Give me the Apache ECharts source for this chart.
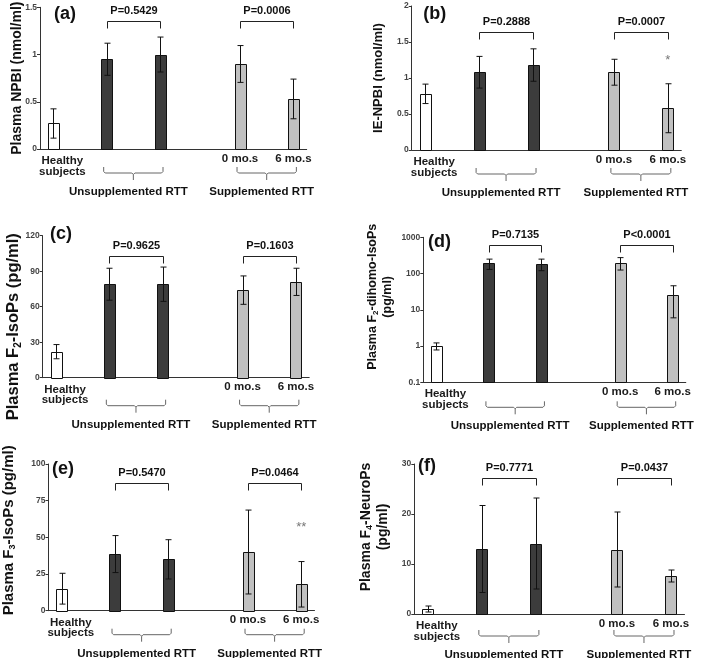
<!DOCTYPE html>
<html><head><meta charset="utf-8">
<script src="https://cdn.jsdelivr.net/npm/echarts@6/dist/echarts.min.js"></script>
<style>html,body{margin:0;padding:0;background:#fff}#c{width:709px;height:658px}</style>
</head><body><div id="c"></div>
<script>
// ---------------- data ----------------
const panelLetters = ['(a)', '(b)', '(c)', '(d)', '(e)', '(f)'];
const barLabels = ['Healthy\nsubjects', '', '', '0 mo.s', '6 mo.s'];
const groupLabels = ['Unsupplemented RTT', 'Supplemented RTT'];
const yTitles = [
  'Plasma NPBI (nmol/ml)',
  'IE-NPBI (nmol/ml)',
  'Plasma F{s|2}-IsoPs (pg/ml)',
  'Plasma F{s|2}-dihomo-IsoPs\n(pg/ml)',
  'Plasma F{s|3}-IsoPs (pg/ml)',
  'Plasma F{s|4}-NeuroPs\n(pg/ml)'
];
const npbiMean = [0.27, 0.95, 1.00, 0.90, 0.53];
const npbiSd = [0.155, 0.17, 0.185, 0.195, 0.21];
const ieNpbiMean = [0.78, 1.08, 1.18, 1.08, 0.58];
const ieNpbiSd = [0.135, 0.22, 0.225, 0.18, 0.34];
const f2IsoPsMean = [22, 79, 79, 74, 81];
const f2IsoPsSd = [6, 13.5, 14.5, 12, 11.5];
const f2DihomoMean = [1.0, 190, 185, 200, 26];
const f2DihomoSd = [0.22, 60, 65, 75, 20];
const f3IsoPsMean = [15, 38.6, 35, 40, 18];
const f3IsoPsSd = [10.5, 12.6, 13.4, 28.6, 15.5];
const f4NeuroPsMean = [1.0, 13.0, 14.1, 12.9, 7.6];
const f4NeuroPsSd = [0.6, 8.7, 9.1, 7.5, 1.2];
const pUnsupp = ['P=0.5429', 'P=0.2888', 'P=0.9625', 'P=0.7135', 'P=0.5470', 'P=0.7771'];
const pSupp = ['P=0.0006', 'P=0.0007', 'P=0.1603', 'P<0.0001', 'P=0.0464', 'P=0.0437'];
const starMarks = ['', '*', '', '', '**', ''];
const starLevel = [null, 1.24, null, null, 57, null];
const yMin = [0, 0, 0, 0.1, 0, 0];
const yMax = [1.5, 2, 120, 1000, 100, 30];
const yStep = [0.5, 0.5, 30, null, 25, 10];

const means = [npbiMean, ieNpbiMean, f2IsoPsMean, f2DihomoMean, f3IsoPsMean, f4NeuroPsMean];
const sds = [npbiSd, ieNpbiSd, f2IsoPsSd, f2DihomoSd, f3IsoPsSd, f4NeuroPsSd];

// ---------------- layout ----------------
const FONT = '"Liberation Sans", Arial, sans-serif';
const NARROW = '"Liberation Sans Narrow", "Arial Narrow", "Liberation Sans", Arial, sans-serif';
const NSLOT = 10;
const slotOf = [0, 2, 4, 7, 9];
const barColors = ['#ffffff', '#3c3c3c', '#3c3c3c', '#c0c0c0', '#c0c0c0'];
const BAR_W = 11;
const L = [
  {left: 40, top: 7.3, width: 266.7, height: 141.7, gap: 14, fs: 14, pad: [0, 0, 0, 0], pOff: 13.4, letter: [14, 7.7]},
  {left: 411.7, top: 6, width: 269.6, height: 144, gap: 25, fs: 13, pad: [0, 0, 0, 0], pOff: 25.7, letter: [11.5, 9]},
  {left: 42.7, top: 235.7, width: 266.5, height: 142, gap: 19, fs: 16.5, pad: [0, 40, 0, 0], pOff: 20.3, letter: [7.3, -0.7]},
  {left: 423.3, top: 237.3, width: 262.5, height: 145, gap: 28, fs: 12.5, pad: [0, 0, 0, 26], pOff: 7.7, letter: [4.7, 5.7]},
  {left: 48.5, top: 464, width: 266, height: 146.7, gap: 31, fs: 15, pad: [0, 0, 0, 14], pOff: 19.3, letter: [3.5, 6]},
  {left: 414.3, top: 464, width: 270.2, height: 150, gap: 23, fs: 14, pad: [0, 0, 0, 24], pOff: 14.3, letter: [3.7, 3]}
];
const bottomExtra = [0, 0, 4, 1, 0, -2];

const slotNames = new Array(NSLOT).fill('');
slotOf.forEach((s, i) => { slotNames[s] = barLabels[i]; });

const grids = [], xAxes = [], yAxes = [], series = [];
L.forEach((l, p) => {
  grids.push({left: l.left, top: l.top, width: l.width, height: l.height, outerBoundsMode: 'none', containLabel: false});
  xAxes.push({
    type: 'category', gridIndex: p, data: slotNames, boundaryGap: true,
    axisLine: {lineStyle: {color: '#333', width: 1}},
    axisTick: {show: false},
    axisLabel: {
      interval: 0, margin: 3, fontFamily: FONT, fontWeight: 'bold', fontSize: 11.5, color: '#1a1a1a', lineHeight: 13,
      formatter: v => v.indexOf('\n') >= 0 ? '{h1|' + v.split('\n')[0] + '}\n{h|' + v.split('\n')[1] + '}' : v,
      rich: {
        h1: {fontFamily: FONT, fontWeight: 'bold', fontSize: 11.5, color: '#1a1a1a', lineHeight: 13, padding: [5, 0, 0, 18]},
        h: {fontFamily: FONT, fontWeight: 'bold', fontSize: 11.5, color: '#1a1a1a', lineHeight: 13, padding: [0, 0, 0, 18]}
      }
    },
    splitLine: {show: false}
  });
  const ya = {
    type: p === 3 ? 'log' : 'value', gridIndex: p, min: yMin[p], max: yMax[p],
    name: yTitles[p], nameLocation: 'middle', nameRotate: 90, nameGap: l.gap, nameMoveOverlap: false,
    nameTextStyle: {
      fontFamily: FONT, fontWeight: 'bold', fontSize: l.fs, color: '#111', lineHeight: l.fs + 3, padding: l.pad,
      rich: {s: {fontFamily: FONT, fontWeight: 'bold', fontSize: Math.round(l.fs * 0.62), color: '#111', verticalAlign: 'bottom', lineHeight: l.fs + 3}}
    },
    axisLine: {show: true, lineStyle: {color: '#333', width: 1}},
    axisTick: {show: true, inside: false, length: 3, lineStyle: {color: '#333'}},
    axisLabel: {fontFamily: NARROW, fontWeight: 'bold', fontSize: 8.5, color: '#444', margin: 3, formatter: v => String(v)},
    splitLine: {show: false}
  };
  if (yStep[p]) ya.interval = yStep[p];
  if (p === 3) ya.logBase = 10;
  yAxes.push(ya);

  const barData = slotOf.map((s, i) => [s, means[p][i]]);
  series.push({
    type: 'custom', xAxisIndex: p, yAxisIndex: p, data: barData, silent: true, z: 3,
    encode: {x: 0, y: 1},
    renderItem: (params, api) => {
      const x = api.value(0);
      const t = api.coord([x, api.value(1)]);
      const b = api.coord([x, yMin[p]]);
      return {type: 'rect', shape: {x: Math.round(t[0] - BAR_W / 2) + 0.5, y: Math.round(t[1]) + 0.5, width: BAR_W, height: Math.round(b[1]) - Math.round(t[1])},
        style: {fill: barColors[params.dataIndex], stroke: '#111', lineWidth: 1}};
    }
  });
  const errData = slotOf.map((s, i) => [s, means[p][i] - sds[p][i], means[p][i] + sds[p][i]]);
  series.push({
    type: 'custom', xAxisIndex: p, yAxisIndex: p, data: errData, silent: true, z: 5,
    encode: {x: 0, y: [1, 2]},
    renderItem: (params, api) => {
      const x = api.value(0);
      const a = api.coord([x, api.value(1)]);
      const b = api.coord([x, api.value(2)]);
      const c = 3;
      const xm = Math.round(a[0]) + 0.5;
      const st = {stroke: '#111', lineWidth: 1};
      return {type: 'group', children: [
        {type: 'line', shape: {x1: xm, y1: a[1], x2: xm, y2: b[1]}, style: st},
        {type: 'line', shape: {x1: xm - c, y1: a[1], x2: xm + c, y2: a[1]}, style: st},
        {type: 'line', shape: {x1: xm - c, y1: b[1], x2: xm + c, y2: b[1]}, style: st}
      ]};
    }
  });
});

const chart = echarts.init(document.getElementById('c'), null, {renderer: 'canvas'});
chart.setOption({animation: false, backgroundColor: '#fff', grid: grids, xAxis: xAxes, yAxis: yAxes, series: series});

// ---------------- annotations ----------------
const g = [];
L.forEach((l, p) => {
  const px = s => chart.convertToPixel({xAxisIndex: p, yAxisIndex: p}, [s, yMax[p]])[0];
  const xs = slotOf.map(px);
  g.push({type: 'text', left: l.left + l.letter[0], top: l.top + l.letter[1] - 10,
    style: {text: panelLetters[p], font: 'bold 18px ' + FONT, fill: '#111'}});
  const yb = Math.round(l.top + l.pOff) + 0.5;
  [[xs[1], xs[2], pUnsupp[p]], [xs[3], xs[4], pSupp[p]]].forEach(([x1, x2, t]) => {
    x1 = Math.round(x1) + 0.5; x2 = Math.round(x2) + 0.5;
    g.push({type: 'polyline', shape: {points: [[x1, yb + 7], [x1, yb], [x2, yb], [x2, yb + 7]]},
      style: {stroke: '#222', lineWidth: 1, fill: null}});
    g.push({type: 'text', x: (x1 + x2) / 2, y: yb - 10.5,
      style: {text: t, font: 'bold 11px ' + FONT, fill: '#111', align: 'center', verticalAlign: 'middle'}});
  });
  const yB = l.top + l.height + bottomExtra[p];
  [[xs[1] - 3, xs[2] + 3, groupLabels[0]], [xs[3] - 3, xs[4] + 3, groupLabels[1]]].forEach(([x1, x2, t]) => {
    const xc = (x1 + x2) / 2, y0 = yB + 18, y1 = yB + 24, y2 = yB + 31;
    g.push({type: 'polyline', shape: {points: [[x1, y0], [x1, y1 - 1.5], [x1 + 1.5, y1], [xc - 1.5, y1], [xc, y1 + 1.5], [xc + 1.5, y1], [x2 - 1.5, y1], [x2, y1 - 1.5], [x2, y0]]},
      style: {stroke: '#666', lineWidth: 1, fill: null}});
    g.push({type: 'line', shape: {x1: xc, y1: y1 + 1.5, x2: xc, y2: y2}, style: {stroke: '#666', lineWidth: 1}});
    g.push({type: 'text', x: xc - 5, y: yB + 43,
      style: {text: t, font: 'bold 11.5px ' + FONT, fill: '#111', align: 'center', verticalAlign: 'middle'}});
  });
  if (starMarks[p]) {
    const pt = chart.convertToPixel({xAxisIndex: p, yAxisIndex: p}, [slotOf[4], starLevel[p]]);
    g.push({type: 'text', x: pt[0], y: pt[1],
      style: {text: starMarks[p], font: '13px ' + FONT, fill: '#777', align: 'center', verticalAlign: 'middle'}});
  }
});
chart.setOption({graphic: g});
</script>
</body></html>
